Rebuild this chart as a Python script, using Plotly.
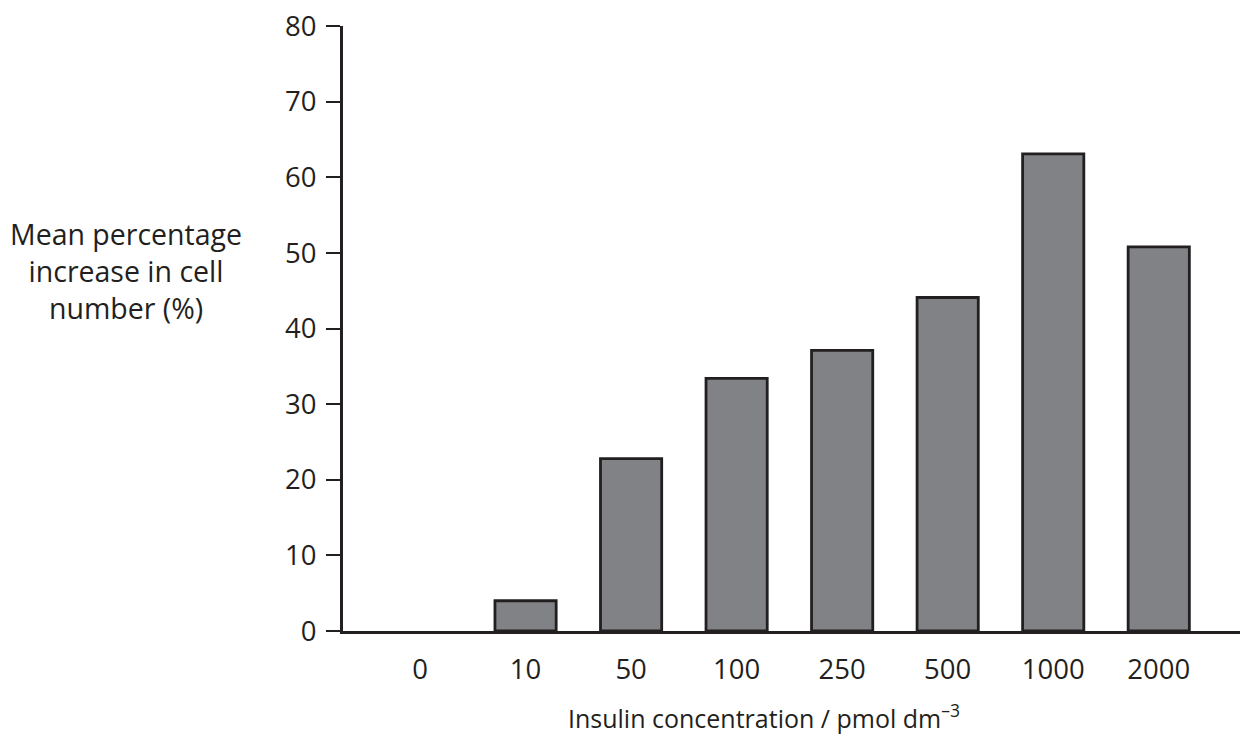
import plotly.graph_objects as go

categories = ["0", "10", "50", "100", "250", "500", "1000", "2000"]
values = [0, 4.0, 22.8, 33.4, 37.1, 44.1, 63.1, 50.8]
y_ticks = [0, 10, 20, 30, 40, 50, 60, 70, 80]

INK = "#231f20"
FONT = "Open Sans"

fig = go.Figure()
fig.add_trace(go.Bar(
    x=list(range(len(categories))),
    y=values,
    width=0.58,
    marker=dict(color="#808285",
                line=dict(color=INK, width=[0 if v == 0 else 2.8 for v in values])),
))

fig.update_layout(
    width=1242, height=736,
    margin=dict(l=343, r=2, t=26, b=105),
    paper_bgcolor="white", plot_bgcolor="white",
    showlegend=False,
    font=dict(family=FONT, size=27, color=INK),
    xaxis=dict(
        range=[-0.73, 7.77],
        tickmode="array",
        tickvals=list(range(len(categories))),
        ticktext=categories,
        showgrid=False, zeroline=False,
        showline=True, linecolor=INK, linewidth=3,
        ticks="", ticklabelstandoff=12,
        tickfont=dict(size=27.5, family=FONT, color=INK),
    ),
    yaxis=dict(
        range=[0, 80],
        tickmode="array",
        tickvals=y_ticks,
        showgrid=False, zeroline=False,
        showline=True, linecolor=INK, linewidth=3,
        ticks="outside", ticklen=14, tickwidth=2, tickcolor=INK,
        ticklabelstandoff=4,
        tickfont=dict(size=27.5, family=FONT, color=INK),
    ),
    annotations=[
        dict(text="Mean percentage<br>increase in cell<br>number (%)",
             xref="paper", yref="paper",
             x=(126 - 343) / 897, y=(631 - 271) / 605,
             xanchor="center", yanchor="middle", showarrow=False,
             align="center", font=dict(size=28.5, family=FONT, color=INK)),
        dict(text="Insulin concentration / pmol dm<sup>\u20133</sup>",
             xref="paper", yref="paper",
             x=(764 - 343) / 897, y=(631 - 716) / 605,
             xanchor="center", yanchor="middle", showarrow=False,
             font=dict(size=25, family=FONT, color=INK)),
    ],
)

fig.write_html("out.html")
